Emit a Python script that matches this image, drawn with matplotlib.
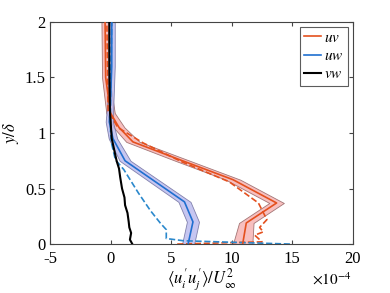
import numpy as np
import matplotlib
matplotlib.use('Agg')
from matplotlib import pyplot as plt

plt.rcParams['font.family'] = ['Liberation Serif', 'DejaVu Serif']
plt.rcParams['mathtext.fontset'] = 'stix'

# uv (red), solid = mean, band = spread, dashed = second profile
uv_y = [0.0, 0.19, 0.37, 0.58, 0.76, 0.92, 1.05, 1.18, 1.5, 2.0]
uv_x = [10.9, 11.2, 13.7, 10.1, 5.7, 1.85, 0.7, 0.0, -0.4, -0.45]
uv_err = [0.8, 0.6, 0.6, 0.6, 0.6, 0.55, 0.45, 0.35, 0.3, 0.3]
uv_dash_y = [0.0, 0.02, 0.04, 0.08, 0.11, 0.15, 0.22, 0.37, 0.56, 0.74, 0.91, 1.05, 1.2, 2.0]
uv_dash_x = [5.5, 12.5, 12.3, 11.9, 12.6, 12.3, 12.9, 12.2, 9.8, 5.9, 2.7, 0.6, -0.2, -0.3]

# uw (blue)
uw_y = [0.0, 0.2, 0.38, 0.75, 0.95, 1.1, 1.3, 1.6, 2.0]
uw_x = [6.4, 6.8, 6.1, 1.2, 0.2, -0.1, 0.0, 0.1, 0.1]
uw_err = [0.5, 0.5, 0.5, 0.45, 0.35, 0.3, 0.25, 0.25, 0.25]
uw_dash_y = [0.0, 0.03, 0.05, 0.13, 0.19, 0.3, 0.46, 0.67, 0.76, 0.9, 1.0, 1.3, 2.0]
uw_dash_x = [14.8, 6.0, 4.6, 4.6, 4.1, 3.3, 2.3, 1.1, 0.4, 0.1, 0.0, 0.0, 0.1]

# vw (black)
vw_y = [0.0, 0.04, 0.1, 0.15, 0.2, 0.28, 0.35, 0.42, 0.5, 0.6, 0.68, 0.75, 0.85, 0.95, 1.2, 1.6, 2.0]
vw_x = [1.8, 1.6, 1.7, 1.55, 1.5, 1.4, 1.2, 1.15, 0.95, 0.8, 0.7, 0.5, 0.3, 0.1, -0.05, -0.1, -0.1]

red = '#e4501e'
blue = '#1f6fd0'

fig = plt.figure(figsize=(3.9, 2.93), dpi=100)
ax = fig.add_axes([0.128, 0.167, 0.777, 0.758])

uv_x_a, uv_e = np.array(uv_x), np.array(uv_err)
uw_x_a, uw_e = np.array(uw_x), np.array(uw_err)
ax.fill_betweenx(uv_y, uv_x_a - uv_e, uv_x_a + uv_e, facecolor='#f7b8b8',
                 edgecolor='#9a6a6a', linewidth=0.6, alpha=0.9, zorder=1)
ax.fill_betweenx(uw_y, uw_x_a - uw_e, uw_x_a + uw_e, facecolor='#b8b8ee',
                 edgecolor='#6a6a9a', linewidth=0.6, alpha=0.8, zorder=1)

ax.plot(uv_dash_x, uv_dash_y, '--', color=red, lw=1.2, zorder=2)
ax.plot(uw_dash_x, uw_dash_y, '--', color='#2a88cc', lw=1.2, zorder=2)
ax.plot(uv_x, uv_y, '-', color=red, lw=1.2, zorder=3, label='$uv$')
ax.plot(uw_x, uw_y, '-', color=blue, lw=1.2, zorder=3, label='$uw$')
ax.plot(vw_x, vw_y, '-', color='black', lw=1.5, zorder=4, label='$vw$')

ax.set_xlim(-5, 20)
ax.set_ylim(0, 2)
ax.set_xticks([-5, 0, 5, 10, 15, 20])
ax.set_xticklabels(['-5', '0', '5', '10', '15', '20'])
ax.set_yticks([0, 0.5, 1, 1.5, 2])
ax.set_yticklabels(['0', '0.5', '1', '1.5', '2'])
ax.tick_params(direction='in', top=True, right=True, labelsize=12, length=3,
               color='#444444')
ax.tick_params(axis='x', pad=5)
ax.tick_params(axis='y', pad=3)
for s in ax.spines.values():
    s.set_color('#444444')
    s.set_linewidth(0.8)

ax.set_xlabel(r"$\langle u_i' u_j' \rangle / U_\infty^2$", fontsize=12, labelpad=0)
ax.set_ylabel(r'$y/\delta$', fontsize=12, labelpad=3)
fig.text(0.80, 0.03, r'$\times 10^{-4}$', fontsize=11)

leg = ax.legend(loc='upper right', fontsize=11, frameon=True, fancybox=False,
                handlelength=1.1, handletextpad=0.2, borderpad=0.3,
                labelspacing=0.3, borderaxespad=0.3)
leg.get_frame().set_edgecolor('#333333')
leg.get_frame().set_linewidth(0.8)

fig.savefig('out.png', dpi=100)
